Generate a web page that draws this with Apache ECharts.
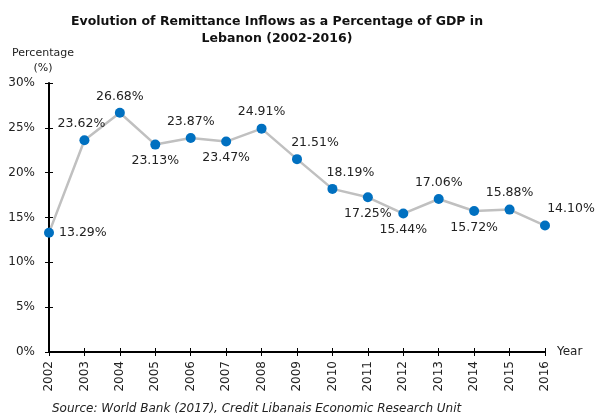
<!DOCTYPE html>
<html>
<head>
<meta charset="utf-8">
<script src="https://cdn.jsdelivr.net/npm/echarts@6/dist/echarts.min.js"></script>
<style>
    html, body { margin: 0; padding: 0; background: #fff; }
    #chart { width: 597px; height: 418px; }
</style>
</head>
<body>
<div id="chart"></div>
<script>
// data
var years = ['2002','2003','2004','2005','2006','2007','2008','2009','2010','2011','2012','2013','2014','2015','2016'];
var remitShare = [13.29, 23.62, 26.68, 23.13, 23.87, 23.47, 24.91, 21.51, 18.19, 17.25, 15.44, 17.06, 15.72, 15.88, 14.10];
var yTicks = [0, 5, 10, 15, 20, 25, 30];

var chart = echarts.init(document.getElementById('chart'));
var font = 'DejaVu Sans, Verdana, sans-serif';

// where each value label sits relative to its point
var sides = ['right','top','top','bottom','top','bottom','top','top','top','bottom','bottom','top','bottom','top','top'];
var shifts = [[0,0],[-3,0],[0,0],[0,0],[0,0],[0,0],[0,0],[18,0],[18,0],[0,0],[0,0],[0,0],[0,0],[0,0],[26,0]];

var points = remitShare.map(function (v, i) {
    return { value: v, label: { position: sides[i], offset: shifts[i] } };
});

var option = {
    animation: false,
    title: {
        text: 'Evolution of Remittance Inflows as a Percentage of GDP in\nLebanon (2002-2016)',
        left: 272,
        top: 8,
        textAlign: 'center',
        textStyle: { fontFamily: font, fontSize: 12.5, fontWeight: 'bold', color: '#111', lineHeight: 17 }
    },
    grid: { left: 49, right: 52, top: 83, bottom: 66 },
    xAxis: [{
        type: 'category',
        data: years,
        boundaryGap: false,
        name: 'Year',
        nameGap: 12,
        nameTextStyle: { fontFamily: font, fontSize: 12, color: '#222' },
        axisLine: { lineStyle: { color: '#000', width: 2 } },
        axisTick: { length: 4, lineStyle: { color: '#000' } },
        axisLabel: { rotate: 90, margin: 9, fontFamily: font, fontSize: 12, color: '#222' },
        splitLine: { show: false }
    }, {
        type: 'category',
        data: years,
        boundaryGap: false,
        position: 'bottom',
        axisLine: { show: false },
        axisTick: { inside: true, length: 4, lineStyle: { color: '#000' } },
        axisLabel: { show: false }
    }],
    yAxis: [{
        type: 'value',
        min: 0,
        max: 30,
        interval: 5,
        name: 'Percentage\n(%)',
        nameGap: 7,
        nameTextStyle: { fontFamily: font, fontSize: 11, color: '#222', align: 'center', lineHeight: 15, padding: [0, 12, 0, 0] },
        axisLine: { show: true, lineStyle: { color: '#000', width: 2 } },
        axisTick: { show: true, length: 4, lineStyle: { color: '#000' } },
        axisLabel: {
            margin: 14, fontFamily: font, fontSize: 12, color: '#222',
            formatter: function (v) { return yTicks.indexOf(v) >= 0 ? v + '%' : ''; }
        },
        splitLine: { show: false }
    }, {
        type: 'value',
        min: 0,
        max: 30,
        interval: 5,
        position: 'left',
        axisLine: { show: false },
        axisTick: { show: true, inside: true, length: 4, lineStyle: { color: '#000' } },
        axisLabel: { show: false },
        splitLine: { show: false }
    }],
    series: [{
        type: 'line',
        data: points,
        symbol: 'circle',
        symbolSize: 10,
        z: 5,
        lineStyle: { color: '#c0c0c0', width: 2.5 },
        itemStyle: { color: '#0070c0' },
        label: {
            show: true,
            distance: 5,
            fontFamily: font,
            fontSize: 12.5,
            color: '#222',
            formatter: function (p) { return p.value.toFixed(2) + '%'; }
        }
    }],
    graphic: [{
        type: 'text',
        left: 52,
        top: 403,
        style: {
            text: 'Source: World Bank (2017), Credit Libanais Economic Research Unit',
            fontFamily: font,
            fontSize: 12,
            fontStyle: 'italic',
            fill: '#222'
        }
    }]
};

chart.setOption(option);
</script>
</body>
</html>
